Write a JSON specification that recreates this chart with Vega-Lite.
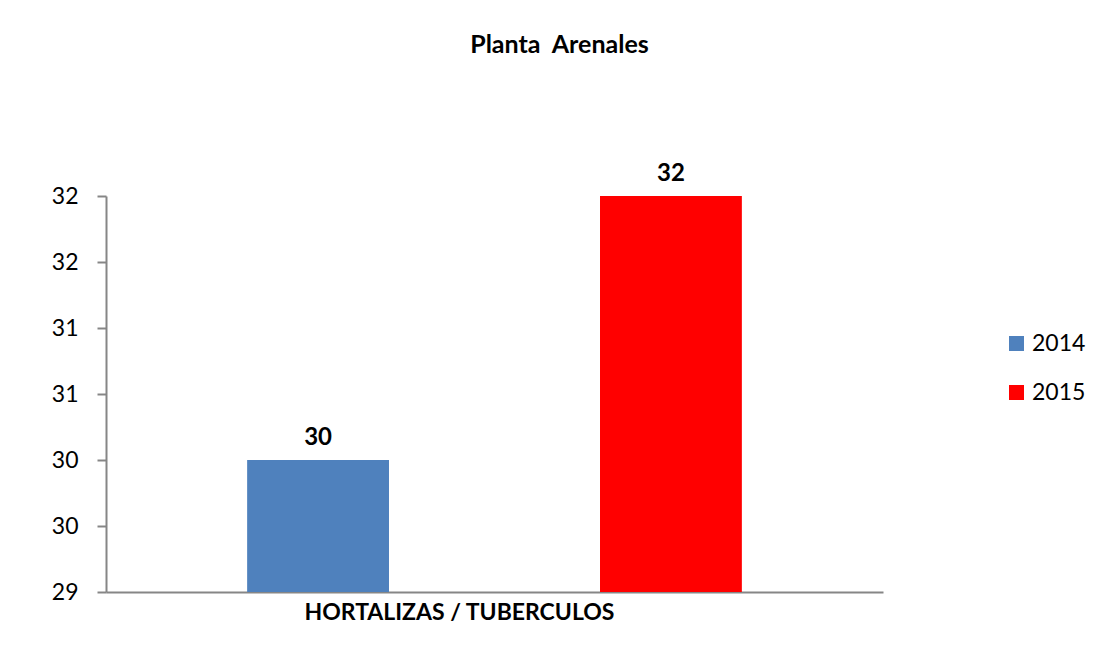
{
  "$schema": "https://vega.github.io/schema/vega-lite/v6.json",
  "width": 777,
  "height": 396,
  "autosize": {"type": "none"},
  "padding": {"left": 106, "top": 196, "right": 216, "bottom": 70},
  "background": "white",
  "config": {"view": {"stroke": null}, "font": "Lato"},
  "title": {"text": "Planta\u00a0 Arenales", "font": "Lato", "fontSize": 25, "fontWeight": "bold", "color": "#000000", "offset": 104, "anchor": "middle", "dx": 65},
  "data": {"values": [
    {"Año": "2014", "valor": 30},
    {"Año": "2015", "valor": 32}
  ]},
  "encoding": {
    "x": {
      "field": "Año", "type": "nominal",
      "scale": {"paddingInner": 0.598, "paddingOuter": 0.4},
      "axis": {"labels": false, "ticks": false, "title": "HORTALIZAS / TUBERCULOS", "titleFont": "Lato", "titleFontSize": 23, "titleFontWeight": "bold", "titleColor": "#000000", "titlePadding": 9, "titleX": 353, "domainColor": "#868686", "domainWidth": 2}
    }
  },
  "layer": [
    {
      "mark": {"type": "bar"},
      "encoding": {
        "y": {
          "field": "valor", "type": "quantitative",
          "scale": {"domain": [29, 32], "zero": false, "nice": false},
          "axis": {"values": [29, 29.5, 30, 30.5, 31, 31.5, 32], "format": ".0f", "grid": false, "title": null, "labelFont": "Lato", "labelFontSize": 23, "labelColor": "#000000", "labelPadding": 19, "domainColor": "#868686", "domainWidth": 2, "tickColor": "#868686", "tickSize": 9, "tickWidth": 2}
        },
        "y2": {"datum": 29},
        "color": {
          "field": "Año", "type": "nominal",
          "scale": {"domain": ["2014", "2015"], "range": ["#4F81BD", "#FF0000"]},
          "legend": {"title": null, "orient": "none", "legendX": 899, "legendY": 136, "symbolType": "square", "symbolSize": 225, "symbolStrokeWidth": 0, "labelFont": "Lato", "labelFontSize": 23, "labelColor": "#000000", "rowPadding": 25, "labelOffset": 4}
        }
      }
    },
    {
      "mark": {"type": "text", "dy": -22, "font": "Lato", "fontSize": 24, "fontWeight": "bold", "color": "#000000"},
      "encoding": {
        "y": {"field": "valor", "type": "quantitative"},
        "text": {"field": "valor", "type": "quantitative", "format": ".0f"}
      }
    }
  ]
}
